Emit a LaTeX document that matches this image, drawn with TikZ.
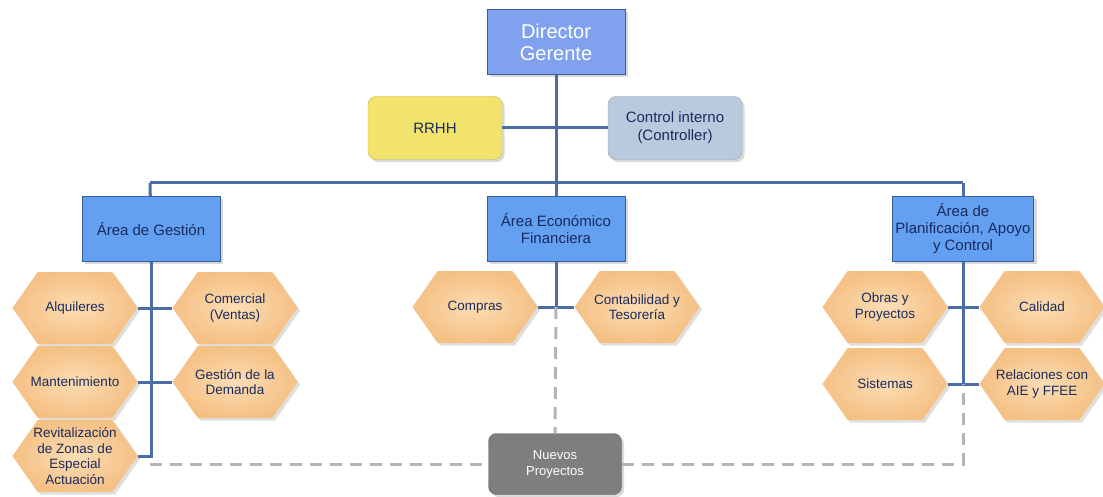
\documentclass[tikz,border=0pt]{standalone}
\usepackage{fontspec}
\setmainfont{Liberation Sans}
\usetikzlibrary{shapes.symbols,shadows}
\definecolor{dirblue}{HTML}{7FA1EE}
\definecolor{areablue}{HTML}{63A0F2}
\definecolor{boxedge}{HTML}{3A5C9A}
\definecolor{staffyellow}{HTML}{F1E36C}
\definecolor{staffgrey}{HTML}{B9CADF}
\definecolor{hexorange}{HTML}{F5C084}
\definecolor{hexlight}{HTML}{FBDDB4}
\definecolor{navytext}{HTML}{1B2A5C}
\definecolor{lineblue}{HTML}{4A6DA6}
\definecolor{dashgrey}{HTML}{B4B4B4}
\definecolor{newgrey}{HTML}{7E7E7E}
\tikzset{
  topbox/.style={rectangle, draw=boxedge, line width=1pt, fill=dirblue, minimum width=138pt, minimum height=65pt, text=white, align=center, font=\fontsize{20}{22}\selectfont, drop shadow={opacity=0.3}},
  areabox/.style={rectangle, draw=boxedge, line width=1pt, fill=areablue, minimum width=138pt, minimum height=65pt, text=navytext, align=center, font=\fontsize{15}{17}\selectfont, drop shadow={opacity=0.3}},
  staffbox/.style={rectangle, rounded corners=8pt, minimum width=134pt, minimum height=63pt, text=navytext, align=center, font=\fontsize{15}{18}\selectfont, drop shadow={opacity=0.3}},
  unitbox/.style={signal, signal to=west and east, signal pointer angle=110, inner color=hexlight, outer color=hexorange, minimum width=125pt, minimum height=72pt, inner xsep=-14pt, inner ysep=0pt, text=navytext, align=center, font=\fontsize{13.5}{15.5}\selectfont, drop shadow={opacity=0.25}},
  orgline/.style={draw=lineblue, line width=3pt},
  newline/.style={draw=dashgrey, line width=3pt, dash pattern=on 12pt off 8pt}
}
\begin{document}
\begin{tikzpicture}[x=1pt, y=-1pt]
\useasboundingbox (0,0) rectangle (1103,497);
% direction
\node [topbox] (dir) at (556,42) {Director\\Gerente};
\node [staffbox, fill=staffyellow, draw=staffyellow!80!black] (rrhh) at (435,128) {RRHH};
\node [staffbox, fill=staffgrey, draw=staffgrey!80!black] (ctrl) at (675,128) {Control interno\\(Controller)};
% areas
\node [areabox] (gest) at (151,229) {Área de Gestión};
\node [areabox] (eco) at (556,229) {Área Económico\\Financiera};
\node [areabox] (plan) at (963,229) {Área de\\Planificación, Apoyo\\y Control};
% area de gestion
\node [unitbox] (alq) at (75,308) {Alquileres};
\node [unitbox] (com) at (235,308) {Comercial\\(Ventas)};
\node [unitbox] (mant) at (75,382) {Mantenimiento};
\node [unitbox] (dem) at (235,382) {Gestión de la\\Demanda};
\node [unitbox] (revit) at (75,456) {Revitalización\\de Zonas de\\Especial\\Actuación};
% area economico financiera
\node [unitbox] (compras) at (475,307) {Compras};
\node [unitbox] (cont) at (637,307) {Contabilidad y\\Tesorería};
% area de planificacion
\node [unitbox] (obras) at (885,307) {Obras y\\Proyectos};
\node [unitbox] (cal) at (1042,307) {Calidad};
\node [unitbox] (sist) at (885,384) {Sistemas};
\node [unitbox] (rel) at (1042,384) {Relaciones con\\AIE y FFEE};
% nuevos proyectos
\node [staffbox, fill=newgrey, draw=newgrey!80!black, text=white, minimum width=133pt, minimum height=61pt, font=\fontsize{13}{16}\selectfont] (nuevos) at (555,464) {Nuevos\\Proyectos};
% joints
\coordinate (barL) at (150,183);
\coordinate (barM) at (556,183);
\coordinate (barR) at (963,183);
\coordinate (ecoJ) at (556,307);
\coordinate (planJ) at (963,384);
\coordinate (dashL) at (150,464);
\coordinate (dashR) at (963,464);
% lines
\draw [orgline] (dir) -- (barM);
\draw [orgline] (rrhh) -- (ctrl);
\draw [orgline] (barL) -- (barR);
\draw [orgline] (barL) -- (gest);
\draw [orgline] (barM) -- (eco);
\draw [orgline] (barR) -- (plan);
\draw [orgline] (gest.south) |- (revit.east);
\draw [orgline] (alq.east) -- (com.west);
\draw [orgline] (mant.east) -- (dem.west);
\draw [orgline] (eco.south) -- (ecoJ);
\draw [orgline] (compras.east) -- (cont.west);
\draw [orgline] (plan.south) -- (planJ);
\draw [orgline] (obras.east) -- (cal.west);
\draw [orgline] (sist.east) -- (rel.west);
\draw [newline] (ecoJ) -- (nuevos.north);
\draw [newline] (dashL) -- (nuevos.west);
\draw [newline] (nuevos.east) -- (dashR) -- (planJ);
\end{tikzpicture}
\end{document}
